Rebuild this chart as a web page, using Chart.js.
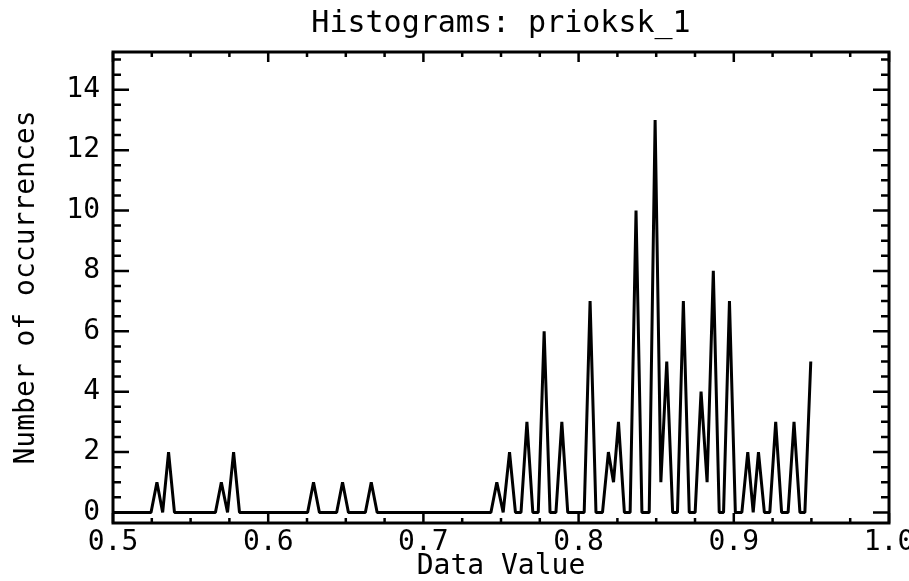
<!DOCTYPE html>
<html>
<head>
<meta charset="utf-8">
<script src="https://cdn.jsdelivr.net/npm/chart.js@4.4.1/dist/chart.umd.min.js"></script>
<style>
  html, body { margin: 0; padding: 0; background: #fff; }
</style>
</head>
<body>
<canvas id="histChart" width="909" height="581"></canvas>
<script>
// vertices of the histogram line
const binCenters = [
  0.5, 0.5245, 0.5283, 0.532, 0.5358, 0.5396,
  0.566, 0.5698, 0.5738, 0.5777, 0.5815,
  0.6254, 0.6292, 0.633, 0.6441, 0.6479, 0.6517, 0.6626, 0.6664, 0.6702,
  0.7435, 0.7473, 0.7514, 0.7555, 0.7593,
  0.7629, 0.7667, 0.7705, 0.774, 0.7778, 0.7816, 0.7854, 0.7892, 0.793,
  0.8036, 0.8074, 0.8112, 0.8154, 0.8192, 0.8225, 0.8257, 0.8295,
  0.8332, 0.837, 0.8408, 0.8455, 0.8493, 0.853, 0.8568, 0.8606,
  0.8637, 0.8675, 0.8713, 0.8751, 0.8789, 0.8828, 0.8868, 0.8906,
  0.8934, 0.8972, 0.901, 0.9052, 0.909, 0.9125, 0.9159, 0.9197,
  0.9232, 0.927, 0.9308, 0.935, 0.9388, 0.9426, 0.9458, 0.9496
];
const counts = [
  0, 0, 1, 0, 2, 0,
  0, 1, 0, 2, 0,
  0, 1, 0, 0, 1, 0, 0, 1, 0,
  0, 1, 0, 2, 0,
  0, 3, 0, 0, 6, 0, 0, 3, 0,
  0, 7, 0, 0, 2, 1, 3, 0,
  0, 10, 0, 0, 13, 1, 5, 0,
  0, 7, 0, 0, 4, 1, 8, 0,
  0, 7, 0, 0, 2, 0, 2, 0,
  0, 3, 0, 0, 3, 0, 0, 5
];
const xTickValues = [0.5, 0.6, 0.7, 0.8, 0.9, 1.0];
const xTickLabels = ['0.5', '0.6', '0.7', '0.8', '0.9', '1.0'];
const yTickValues = [0, 2, 4, 6, 8, 10, 12, 14];

const FONT = 'DejaVu Sans Mono';

// IDL style box with inward ticks on all four sides
const idlFrame = {
    id: 'idlFrame',
    afterDatasetsDraw(chart) {
        const { ctx, chartArea: a, scales: { x, y } } = chart;
        ctx.save();
        ctx.strokeStyle = '#000';
        ctx.lineWidth = 2.5;
        ctx.beginPath();
        for (let i = 0; i <= 20; i++) {
            const v = 0.5 + i * 0.025;
            const px = x.getPixelForValue(v);
            const len = i % 4 === 0 ? 10 : 5;
            ctx.moveTo(px, a.bottom); ctx.lineTo(px, a.bottom - len);
            ctx.moveTo(px, a.top); ctx.lineTo(px, a.top + len);
        }
        for (let i = 0; i <= 30; i++) {
            const py = y.getPixelForValue(i * 0.5);
            const len = i % 4 === 0 ? 16 : 8;
            ctx.moveTo(a.left, py); ctx.lineTo(a.left + len, py);
            ctx.moveTo(a.right, py); ctx.lineTo(a.right - len, py);
        }
        ctx.stroke();
        ctx.lineWidth = 3;
        ctx.strokeRect(a.left, a.top, a.right - a.left, a.bottom - a.top);
        ctx.restore();
    }
};

const ctx = document.getElementById('histChart');

new Chart(ctx, {
    type: 'line',
    data: {
        datasets: [{
            data: binCenters.map((b, i) => ({ x: b, y: counts[i] })),
            borderColor: '#000',
            borderWidth: 3,
            borderJoinStyle: 'bevel',
            pointRadius: 0,
            tension: 0,
            fill: false
        }]
    },
    options: {
        responsive: false,
        animation: false,
        devicePixelRatio: 1,
        layout: { padding: { left: 0, right: 20, top: 0, bottom: 0 } },
        plugins: {
            legend: { display: false },
            tooltip: { enabled: false },
            title: {
                display: true,
                text: 'Histograms: prioksk_1',
                fullSize: false,
                color: '#000',
                font: { family: FONT, size: 30, weight: 'normal', lineHeight: 1.2 },
                padding: { top: 6, bottom: 10 }
            }
        },
        scales: {
            x: {
                type: 'linear',
                min: 0.5,
                max: 1.0,
                grid: { display: false, drawTicks: false },
                border: { display: false },
                afterBuildTicks: (scale) => { scale.ticks = xTickValues.map(v => ({ value: v })); },
                afterFit: (scale) => { scale.height = 58; scale.paddingLeft = 0; scale.paddingRight = 0; },
                ticks: {
                    color: '#000',
                    padding: 3,
                    maxRotation: 0,
                    autoSkip: false,
                    font: { family: FONT, size: 28, lineHeight: 1.2 },
                    callback: (v) => xTickLabels[xTickValues.findIndex(t => Math.abs(t - v) < 1e-9)]
                },
                title: {
                    display: true,
                    text: 'Data Value',
                    color: '#000',
                    font: { family: FONT, size: 28, lineHeight: 1 },
                    padding: { top: 0, bottom: 0 }
                }
            },
            y: {
                min: -0.35,
                max: 15.25,
                grid: { display: false, drawTicks: false },
                border: { display: false },
                afterBuildTicks: (scale) => { scale.ticks = yTickValues.map(v => ({ value: v })); },
                afterFit: (scale) => { scale.width = 113; scale.paddingTop = 0; scale.paddingBottom = 0; },
                ticks: {
                    color: '#000',
                    padding: 13,
                    autoSkip: false,
                    font: { family: FONT, size: 28, lineHeight: 1.2 }
                },
                title: {
                    display: true,
                    text: 'Number of occurrences',
                    color: '#000',
                    font: { family: FONT, size: 28, lineHeight: 1 },
                    padding: { top: 13, bottom: 0 }
                }
            }
        }
    },
    plugins: [idlFrame]
});
</script>
</body>
</html>
